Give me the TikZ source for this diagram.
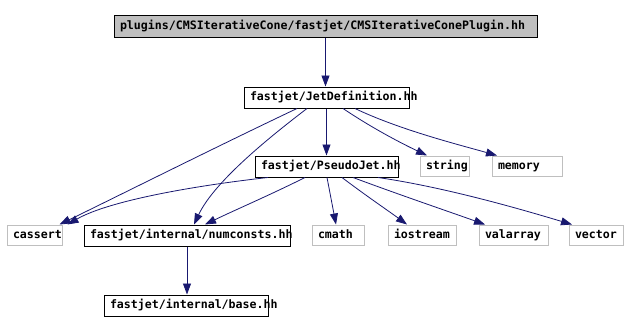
\documentclass[tikz,border=0pt]{standalone}
\usepackage{fontspec}
\setmonofont{DejaVu Sans Mono}
\usetikzlibrary{arrows.meta}
\definecolor{edgeblue}{HTML}{191970}
\definecolor{boxgray}{HTML}{BFBFBF}
\begin{document}
\begin{tikzpicture}[x=1pt,y=-1pt,
  file/.style={rectangle,draw=black,line width=1pt,inner xsep=6pt,inner ysep=0pt,
    text height=8.5pt,text depth=2.5pt,
    minimum height=21pt,align=left,font=\ttfamily\bfseries\fontsize{11.6}{12}\selectfont},
  sysfile/.style={file,draw=boxgray,minimum height=20pt},
  topfile/.style={file,fill=boxgray,minimum height=22pt},
  dep/.style={draw=edgeblue,line width=0.8pt,-{Triangle[length=11pt,width=8pt,fill=edgeblue]}}]
\useasboundingbox (0,0) rectangle (628,332);
\node[topfile,text width=411pt] (top) at (325.5,26) {plugins/CMSIterativeCone/fastjet/CMSIterativeConePlugin.hh};
\node[file,text width=153pt] (jd) at (326.5,97.5) {fastjet/JetDefinition.hh};
\node[sysfile,text width=37pt] (string) at (444.5,166) {string};
\node[sysfile,text width=58pt] (memory) at (527,166) {memory};
\node[file,text width=131pt] (pj) at (326.5,166.5) {fastjet/PseudoJet.hh};
\node[sysfile,text width=43pt] (cassert) at (34.5,235) {cassert};
\node[file,text width=194pt] (nc) at (187,235.5) {fastjet/internal/numconsts.hh};
\node[sysfile,text width=40pt] (cmath) at (338,235) {cmath};
\node[sysfile,text width=56pt] (iostream) at (422,235) {iostream};
\node[sysfile,text width=57pt] (valarray) at (513.5,235) {valarray};
\node[sysfile,text width=42pt] (vector) at (596,235) {vector};
\node[file,text width=152pt] (base) at (186,305.5) {fastjet/internal/base.hh};

\draw[dep] (top.south) -- (top.south |- jd.north);
\draw[dep] (jd.south) -- (pj.north);
\draw[dep] ([xshift=16.5pt]jd.south) .. controls (375,130) and (405,145) .. ([xshift=-17.5pt]string.north);
\draw[dep] ([xshift=28.5pt]jd.south) .. controls (400,130) and (460,145) .. ([xshift=-30pt]memory.north);
\draw[dep] ([xshift=-29.5pt]jd.south) .. controls (220,145) and (120,195) .. ([xshift=-3pt]cassert.north east);
\draw[dep] ([xshift=-19.5pt]jd.south) .. controls (275,133) and (215,180) .. ([xshift=7pt]nc.north);
\draw[dep] ([xshift=-58.5pt]pj.south) .. controls (200,185) and (110,200) .. ([xshift=5pt]cassert.north east);
\draw[dep] ([xshift=-21.5pt]pj.south) .. controls (270,195) and (235,210) .. ([xshift=18pt]nc.north);
\draw[dep] ([xshift=0.5pt]pj.south) -- ([xshift=-2pt]cmath.north);
\draw[dep] ([xshift=15.5pt]pj.south) .. controls (365,195) and (390,212) .. ([xshift=-15pt]iostream.north);
\draw[dep] ([xshift=26.5pt]pj.south) .. controls (400,195) and (450,212) .. ([xshift=-28.5pt]valarray.north);
\draw[dep] ([xshift=51.5pt]pj.south) .. controls (450,188) and (530,212) .. ([xshift=-24pt]vector.north);
\draw[dep] (nc.south) -- (nc.south |- base.north);
\end{tikzpicture}
\end{document}
